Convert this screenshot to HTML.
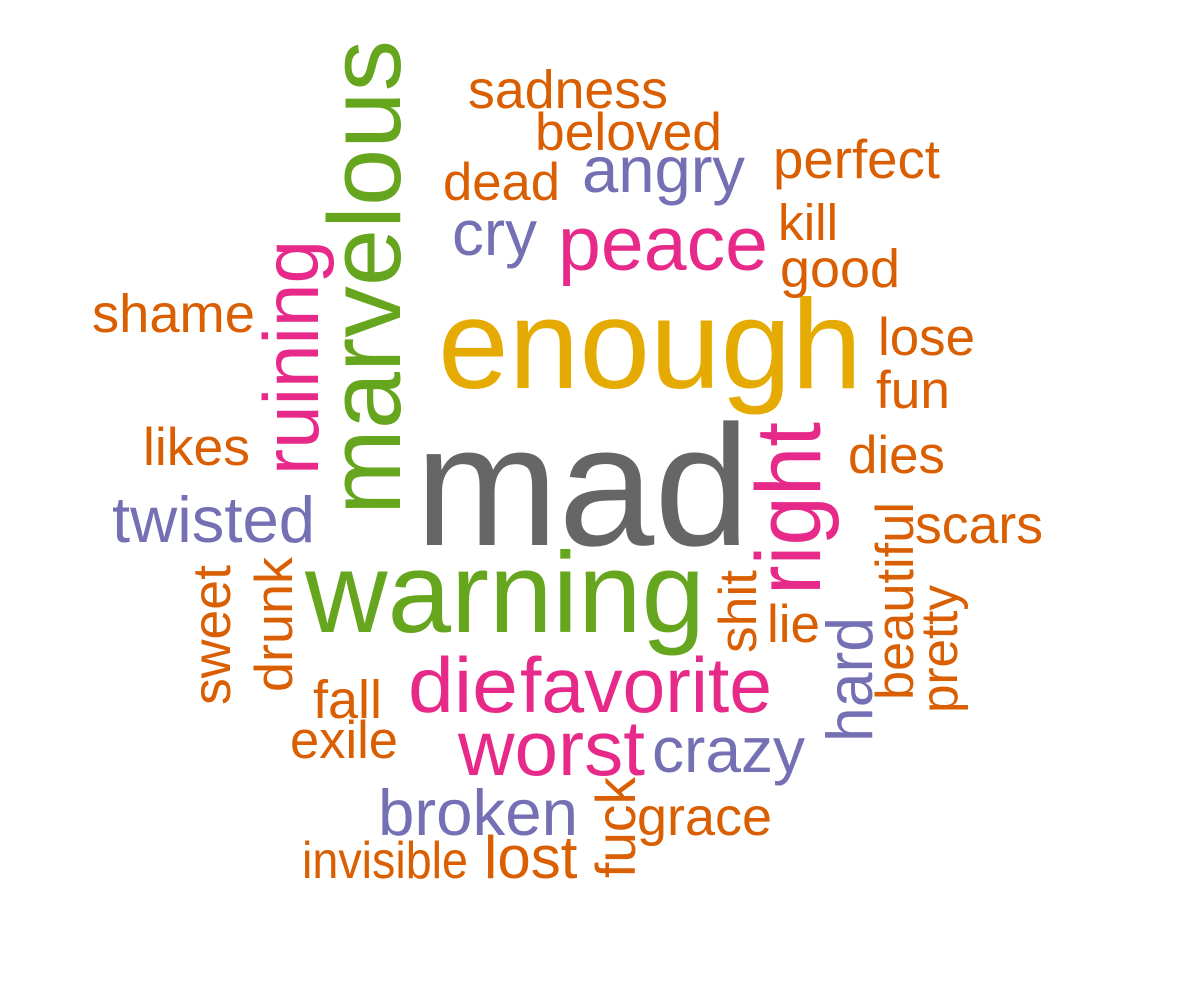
<!DOCTYPE html>
<html><head><meta charset="utf-8"><style>
html,body{margin:0;padding:0;background:#fff;}
svg{display:block;}
text{font-family:"Liberation Sans",Arial,sans-serif;}
</style></head><body>
<svg id="cloud" width="1200" height="982" viewBox="0 0 1200 982" xmlns="http://www.w3.org/2000/svg"></svg>
<script>
const words = ["mad","enough","warning","marvelous","ruining","right","peace","angry","cry","sadness","beloved","dead","perfect","kill","good","shame","lose","fun","likes","dies","twisted","scars","beautiful","pretty","hard","shit","lie","sweet","drunk","fall","exile","die","favorite","worst","crazy","broken","fuck","grace","invisible","lost"];
const sizes = [172,127,114,103,78,92,77,65,64,54,53,53,55,51,54,54,53,53,53,53,65,54,53,52,65,53,53,54,53,54,53,78,78,78,64,65,56,54,52,60];
const colorKeys = ["k","y","g","g","p","p","p","v","v","o","o","o","o","o","o","o","o","o","o","o","v","o","o","o","v","o","o","o","o","o","o","p","p","p","v","v","o","o","o","o"];
const rotated = [0,0,0,1,1,1,0,0,0,0,0,0,0,0,0,0,0,0,0,0,0,0,1,1,1,1,0,1,1,0,0,0,0,0,0,0,1,0,0,0];
// layout (not data): x/baseline position and fitted length per word (0 = natural width)
const layoutX = [415,438,305,400,318,820,558,582,452,468,535,443,773,778,780,92,878,876,143,848,112,915,913,957,872,756,767,230,292,313,290,408,520,458,652,378,635,637,302,484];
const layoutY = [545,388,632,515,475,595,270,192,255,108,150,200,178,240,287,332,355,408,465,473,542,543,700,713,742,653,642,705,692,718,758,712,712,775,772,835,878,835,878,878];
const layoutLen = [335,424,400,475,235,173,210,163,85,200,187,117,167,60,120,163,97,74,107,97,203,128,198,128,125,83,53,140,135,69,108,110,252,187,153,200,101,135,166,0];
const palette = {k:"#666666",y:"#E6AB02",g:"#66A61E",p:"#E7298A",v:"#7570B3",o:"#D95F02"};
const svg = document.getElementById('cloud');
const NS = "http://www.w3.org/2000/svg";
words.forEach(function(w,i){
  const t = document.createElementNS(NS,'text');
  
  
  t.setAttribute('x', layoutX[i]);
  t.setAttribute('y', layoutY[i]);
  t.setAttribute('font-size', sizes[i]);
  t.setAttribute('fill', palette[colorKeys[i]]);
  if (layoutLen[i] > 0) {
    t.setAttribute('textLength', layoutLen[i]);
    t.setAttribute('lengthAdjust', 'spacingAndGlyphs');
  }
  if (rotated[i]) t.setAttribute('transform', 'rotate(-90 ' + layoutX[i] + ' ' + layoutY[i] + ')');
  t.textContent = w;
  svg.appendChild(t);
});
</script>
</body></html>
